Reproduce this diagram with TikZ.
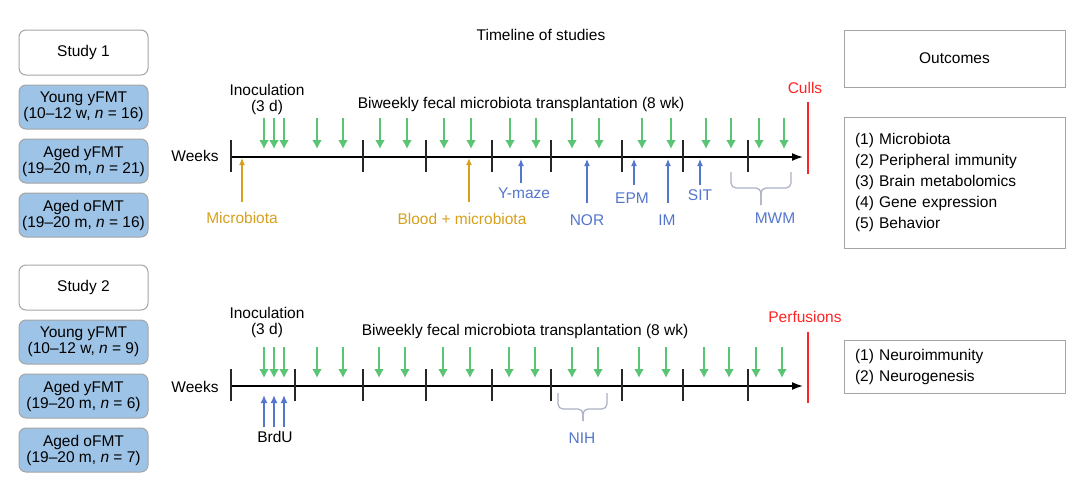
\documentclass[tikz,border=0pt]{standalone}
\usepackage{fontspec}
\setmainfont{Liberation Sans}
\newcommand*{\labelfont}{\fontsize{15.5}{16}\selectfont}
\newcommand*{\listfont}{\fontsize{15.5}{21}\selectfont}
\definecolor{fmtgreen}{RGB}{88,196,116}
\definecolor{gold}{RGB}{214,160,30}
\definecolor{testblue}{RGB}{84,118,204}
\definecolor{groupblue}{RGB}{157,195,230}
\definecolor{boxgrey}{RGB}{165,165,165}
\definecolor{bracegrey}{RGB}{170,176,196}
\definecolor{endred}{RGB}{255,35,35}
\usetikzlibrary{arrows.meta}
\usetikzlibrary{positioning}
\tikzstyle{base}=[x=1pt, y=-1pt, inner sep=0pt, outer sep=0pt, font=\labelfont, node distance=10pt]
\tikzstyle{studybox}=[draw=boxgrey, line width=1pt, rounded corners=7pt, fill=white, minimum width=129pt, minimum height=45pt]
\tikzstyle{groupbox}=[studybox, fill=groupblue, minimum height=44pt, align=center]
\tikzstyle{outbox}=[draw=boxgrey, line width=1pt, minimum width=221pt]
\tikzstyle{listbox}=[outbox, font=\listfont, align=left, text width=199pt, inner xsep=11pt]
\tikzstyle{timeaxis}=[line width=1.6pt, -{Latex[length=11pt,width=8pt]}]
\tikzstyle{weektick}=[line width=1.8pt, black!85]
\tikzstyle{fmt}=[fmtgreen, line width=1.8pt, -{Latex[length=9pt,width=10pt]}]
\tikzstyle{samplearrow}=[gold, line width=1.2pt, -{Latex[length=7pt,width=6pt]}]
\tikzstyle{testarrow}=[testblue, line width=1.2pt, -{Latex[length=7pt,width=6pt]}]
\tikzstyle{spanbrace}=[bracegrey, line width=1.2pt, rounded corners=5pt]
\tikzstyle{endline}=[endred, line width=1.8pt]

\begin{document}
\begin{tikzpicture}[base]
    \useasboundingbox (0,0) rectangle (1080,483);
    \node [anchor=base] (title) at (541,40) {Timeline of studies};

    % study 1 groups
    \node [studybox] (study1) at (83.5,52.5) {Study 1};
    \node [groupbox, below=of study1] (young1) {Young yFMT\\(10--12 w, \textit{n} = 16)};
    \node [groupbox, below=of young1] (agedy1) {Aged yFMT\\(19--20 m, \textit{n} = 21)};
    \node [groupbox, below=of agedy1] (agedo1) {Aged oFMT\\(19--20 m, \textit{n} = 16)};

    % study 2 groups
    \node [studybox] (study2) at (83.5,287.5) {Study 2};
    \node [groupbox, below=of study2] (young2) {Young yFMT\\(10--12 w, \textit{n} = 9)};
    \node [groupbox, below=of young2] (agedy2) {Aged yFMT\\(19--20 m, \textit{n} = 6)};
    \node [groupbox, below=of agedy2] (agedo2) {Aged oFMT\\(19--20 m, \textit{n} = 7)};

    % outcomes
    \node [outbox, minimum height=57pt] (outcomes) at (954.5,58.5) {Outcomes};
    \node [listbox, minimum height=131pt] (out1) at (954.5,182.5)
        {(1) Microbiota\\(2) Peripheral immunity\\(3) Brain metabolomics\\(4) Gene expression\\(5) Behavior};
    \node [listbox, minimum height=53pt] (out2) at (954.5,366.5)
        {(1) Neuroimmunity\\(2) Neurogenesis};

    % timeline 1
    \node [anchor=base] (weeks1) at (195,161) {Weeks};
    \node [align=center] (inoc1) at (267,99) {Inoculation\\(3 d)};
    \node [anchor=base] (fmt1) at (521,108) {Biweekly fecal microbiota transplantation (8 wk)};
    \coordinate (start1) at (231,157);
    \coordinate (stop1) at (803,157);
    \draw [timeaxis] (start1) -- (stop1);
    \foreach \x in {231,363,426,492,551,622,683,748}
        \draw [weektick] (\x,140) -- (\x,172);
    \foreach \x in {264,274,284,317,343,380,407,444,471,510,536,572,599,642,671,706,731,759,784}
        \draw [fmt] (\x,118) -- (\x,149);
    \draw [endline] (808,102) -- (808,174);
    \node [anchor=base, endred] (culls) at (805,93) {Culls};

    \node [anchor=base, gold] (micro) at (242,223) {Microbiota};
    \node [anchor=base, gold] (blood) at (462,224) {Blood + microbiota};
    \draw [samplearrow] (242,202) -- (242,158);
    \draw [samplearrow] (469,202) -- (469,158);

    \node [anchor=base, testblue] (ymaze) at (524,198) {Y-maze};
    \node [anchor=base, testblue] (nor) at (587,225) {NOR};
    \node [anchor=base, testblue] (epm) at (632,203) {EPM};
    \node [anchor=base, testblue] (im) at (667,225) {IM};
    \node [anchor=base, testblue] (sit) at (700,200) {SIT};
    \node [anchor=base, testblue] (mwm) at (775,223) {MWM};
    \draw [testarrow] (521,183) -- (521,159);
    \draw [testarrow] (587,203) -- (587,159);
    \draw [testarrow] (634,185) -- (634,159);
    \draw [testarrow] (668,203) -- (668,159);
    \draw [testarrow] (700,185) -- (700,159);
    % brace under the water maze weeks
    \draw [spanbrace] (731,172) -- (731,188) -- (761,188) -- (761,205);
    \draw [spanbrace] (791,172) -- (791,188) -- (761,188) -- (761,205);

    % timeline 2
    \node [anchor=base] (weeks2) at (195,392) {Weeks};
    \node [align=center] (inoc2) at (267,322) {Inoculation\\(3 d)};
    \node [anchor=base] (fmt2) at (525,335) {Biweekly fecal microbiota transplantation (8 wk)};
    \coordinate (start2) at (231,386);
    \coordinate (stop2) at (803,386);
    \draw [timeaxis] (start2) -- (stop2);
    \foreach \x in {231,295,363,426,492,551,622,683,748}
        \draw [weektick] (\x,369) -- (\x,401);
    \foreach \x in {264,274,284,317,343,379,405,443,470,509,535,572,598,639,666,704,729,756,782}
        \draw [fmt] (\x,347) -- (\x,378);
    \draw [endline] (808,332) -- (808,403);
    \node [anchor=base, endred] (perf) at (805,322) {Perfusions};

    \node [anchor=base] (brdu) at (275,442) {BrdU};
    \foreach \x in {264,274,284}
        \draw [testarrow, line width=1.6pt, -{Latex[length=8pt,width=7pt]}] (\x,427) -- (\x,395);
    \node [anchor=base, testblue] (nih) at (582,443) {NIH};
    % brace under the homecage test week
    \draw [spanbrace] (558,393) -- (558,409) -- (583,409) -- (583,421);
    \draw [spanbrace] (607,393) -- (607,409) -- (583,409) -- (583,421);
\end{tikzpicture}
\end{document}
